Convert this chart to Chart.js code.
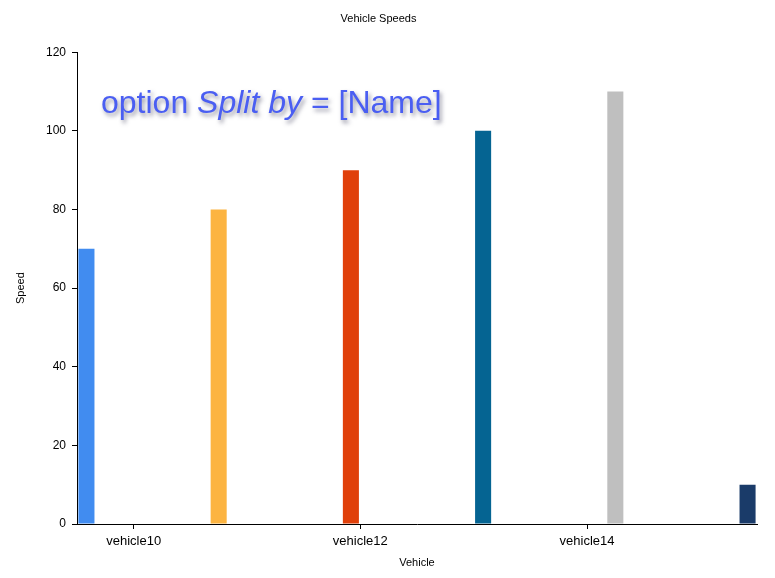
<!DOCTYPE html>
<html>
<head>
<meta charset="utf-8">
<script src="https://cdn.jsdelivr.net/npm/chart.js@4.4.1/dist/chart.umd.min.js"></script>
<style>
  html, body { margin: 0; padding: 0; background: #fff; }
  #wrap { position: relative; width: 775px; height: 578px; }
  #note {
    position: absolute; left: 101px; top: 84px;
    font-family: "Liberation Sans", Arial, sans-serif; font-size: 32px;
    color: #4a5ef2; text-shadow: 2px 3px 4px rgba(60, 60, 90, 0.55);
    white-space: nowrap;
  }
</style>
</head>
<body>
<div id="wrap">
  <canvas id="chart" width="775" height="578"></canvas>
  <div id="note">option <i>Split by</i> = [Name]</div>
</div>
<script>
// données
const vehicles = ['vehicle10', 'vehicle11', 'vehicle12', 'vehicle13', 'vehicle14', 'vehicle15'];
const speeds = [70, 80, 90, 100, 110, 10];
const colors = ['#418CF0', '#FCB441', '#E0400A', '#056492', '#BFBFBF', '#1A3B69'];
const yTicks = [0, 20, 40, 60, 80, 100, 120];

// une série par véhicule (split by Name)
const datasets = vehicles.map((name, i) => ({
  label: name,
  data: vehicles.map((v, j) => (j === i ? speeds[i] : null)),
  backgroundColor: colors[i],
  categoryPercentage: 1,
  barPercentage: 0.85
}));

const family = 'Liberation Sans, Arial, sans-serif';

new Chart(document.getElementById('chart'), {
  type: 'bar',
  data: { labels: vehicles, datasets: datasets },
  options: {
    responsive: false,
    animation: false,
    layout: { padding: { left: 0, right: 18, top: 0, bottom: 0 } },
    plugins: {
      legend: { display: false },
      tooltip: { enabled: false },
      title: {
        display: true,
        text: 'Vehicle Speeds',
        color: '#000',
        font: { family: family, size: 11, weight: 'normal' },
        padding: { top: 12, bottom: 27 }
      }
    },
    scales: {
      x: {
        grid: {
          offset: false,
          drawOnChartArea: false,
          tickLength: 5,
          color: ctx => (ctx.index % 2 === 0 ? '#000' : 'rgba(0,0,0,0)')
        },
        border: { display: true, color: '#000', width: 1 },
        ticks: {
          color: '#000', font: { family: family, size: 13 }, maxRotation: 0, autoSkip: false,
          padding: 5,
          callback: (v, i) => (i % 2 === 0 ? vehicles[i] : '')
        },
        title: { display: true, text: 'Vehicle', color: '#000', font: { family: family, size: 11 }, padding: { top: 0, bottom: 8 } },
        afterFit: s => { s.height = 54; }
      },
      y: {
        min: 0, max: 120,
        afterBuildTicks: s => { s.ticks = yTicks.map(v => ({ value: v })); },
        grid: { drawOnChartArea: false, tickLength: 5, color: '#000' },
        border: { display: true, color: '#000', width: 1 },
        ticks: { color: '#000', font: { family: family, size: 12 }, padding: 6 },
        title: { display: true, text: 'Speed', color: '#000', font: { family: family, size: 11 }, padding: { top: 14, bottom: 0 } },
        afterFit: s => { s.width = 77; }
      }
    }
  }
});
</script>
</body>
</html>
